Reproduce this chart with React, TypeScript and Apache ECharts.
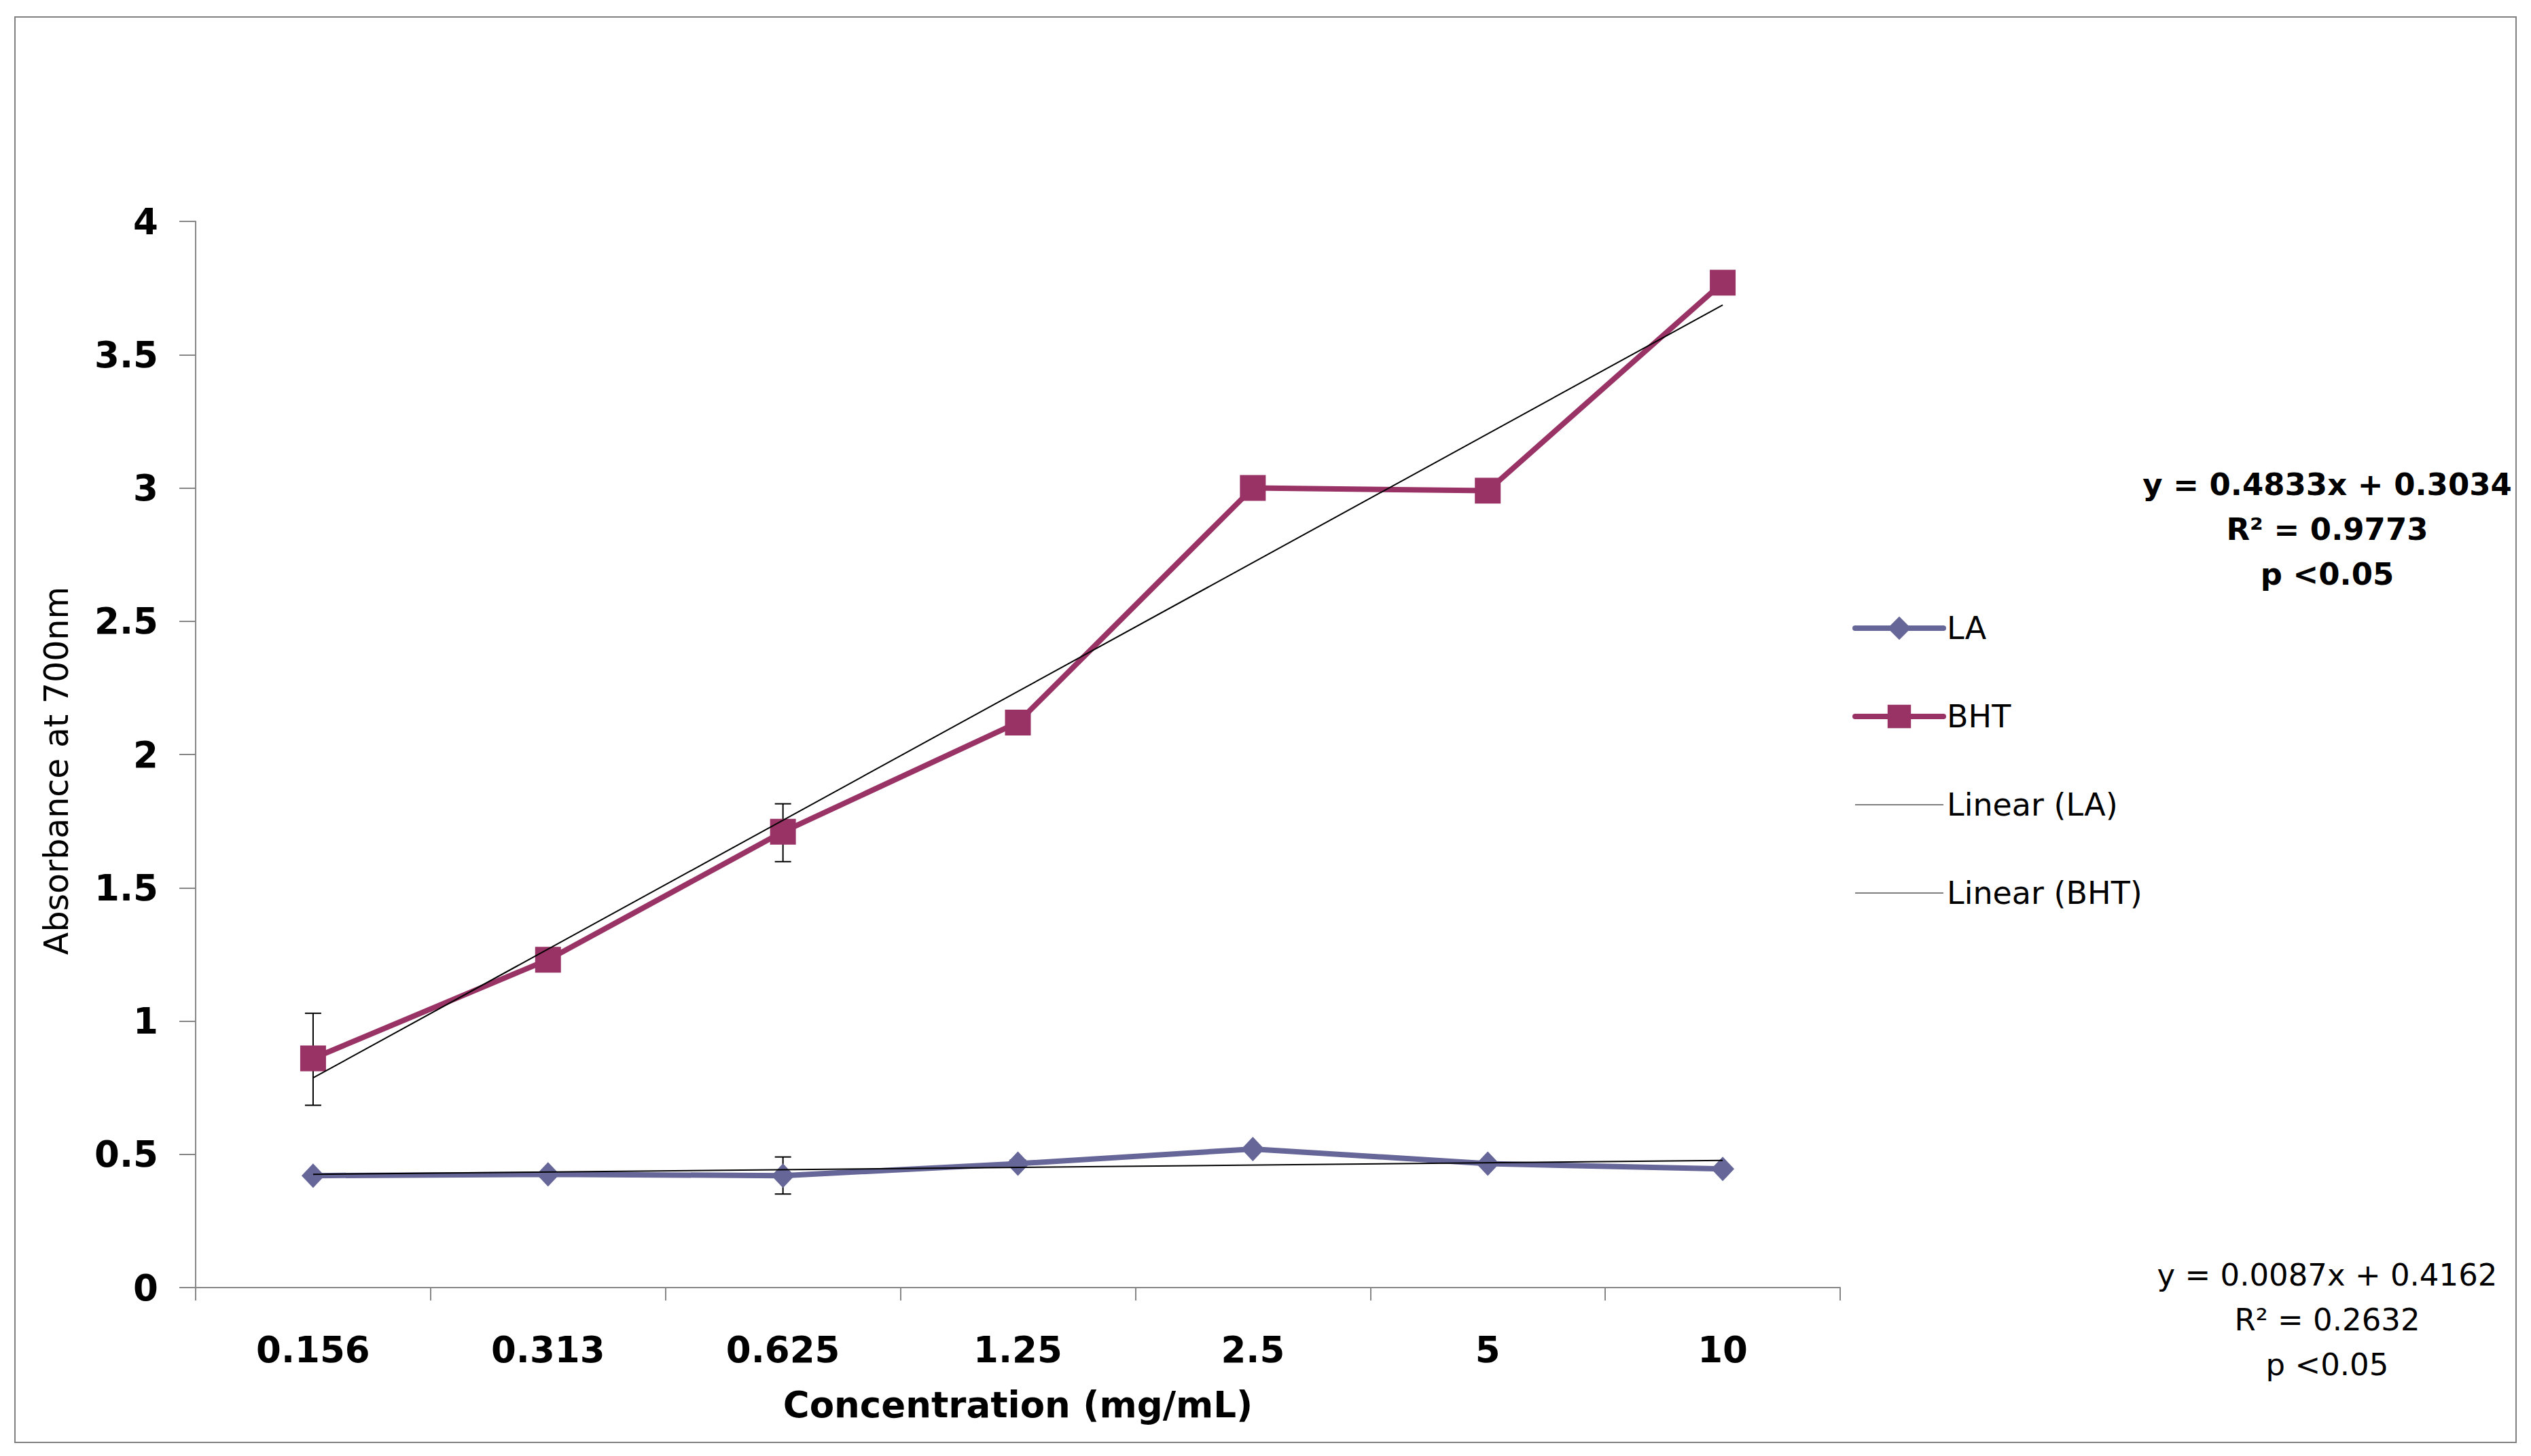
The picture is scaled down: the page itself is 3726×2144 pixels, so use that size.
import React, { useEffect, useRef } from "react";
import * as echarts from "echarts";

const categories = ["0.156", "0.313", "0.625", "1.25", "2.5", "5", "10"];
const laValues = [0.42, 0.425, 0.42, 0.465, 0.52, 0.465, 0.445];
const bhtValues = [0.86, 1.23, 1.71, 2.12, 3.0, 2.99, 3.77];
// error bars: [category index, low, high]
const laErrors = [
  [2, 0.351, 0.49],
  [3, 0.455, 0.478],
];
const bhtErrors = [
  [0, 0.684, 1.029],
  [2, 1.598, 1.815],
];
// trendline end points (first and last category), from the fitted equations
const laTrend = [
  [0, 0.4249],
  [6, 0.4771],
];
const bhtTrend = [
  [0, 0.7867],
  [6, 3.6865],
];
const bhtEquation = ["y = 0.4833x + 0.3034", "R² = 0.9773", "p <0.05"];
const laEquation = ["y = 0.0087x + 0.4162", "R² = 0.2632", "p <0.05"];

const FONT = "DejaVu Sans";
const AXIS_COLOR = "#868686";
const LA_COLOR = "#666699";
const BHT_COLOR = "#993366";

function errorRender(params: any, api: any) {
  const x = api.value(0);
  const lo = api.coord([x, api.value(1)]);
  const hi = api.coord([x, api.value(2)]);
  const w = 12;
  const st = { stroke: "#000", lineWidth: 2 };
  return {
    type: "group",
    children: [
      { type: "line", shape: { x1: lo[0], y1: lo[1], x2: hi[0], y2: hi[1] }, style: st },
      { type: "line", shape: { x1: lo[0] - w, y1: lo[1], x2: lo[0] + w, y2: lo[1] }, style: st },
      { type: "line", shape: { x1: hi[0] - w, y1: hi[1], x2: hi[0] + w, y2: hi[1] }, style: st },
    ],
  };
}

export default function App() {
  const ref = useRef<HTMLDivElement>(null);
  useEffect(() => {
    document.body.style.margin = "0";
    const chart = echarts.init(ref.current!, null, { renderer: "svg" });
    const lineIcon = "path://M0,0H130V1H0Z";
    const eqText = (lines: string[], y0: number, bold: boolean) =>
      lines.map((t, i) => ({
        type: "text",
        x: 3426,
        y: y0 + i * 66,
        style: {
          text: t,
          fill: "#000",
          font: `${bold ? "bold " : ""}45px "${FONT}"`,
          textAlign: "center",
          textVerticalAlign: "middle",
        },
      }));
    chart.setOption({
      animation: false,
      backgroundColor: "#fff",
      grid: { left: 288, top: 326, width: 2421, height: 1570, containLabel: false },
      xAxis: {
        type: "category",
        data: categories,
        boundaryGap: true,
        name: "Concentration (mg/mL)",
        nameLocation: "middle",
        nameGap: 146,
        nameTextStyle: { fontFamily: FONT, fontWeight: "bold", fontSize: 53, color: "#000" },
        axisLine: { show: true, lineStyle: { color: AXIS_COLOR, width: 2 } },
        axisTick: { show: true, length: 19, alignWithLabel: false, lineStyle: { color: AXIS_COLOR, width: 2 } },
        axisLabel: { fontFamily: FONT, fontWeight: "bold", fontSize: 53, color: "#000", margin: 65 },
        splitLine: { show: false },
      },
      yAxis: {
        type: "value",
        min: 0,
        max: 4,
        interval: 0.5,
        name: "Absorbance at 700nm",
        nameLocation: "middle",
        nameGap: 180,
        nameRotate: 90,
        nameTextStyle: { fontFamily: FONT, fontSize: 49, color: "#000", padding: [0, 48, 0, 0] },
        axisLine: { show: true, lineStyle: { color: AXIS_COLOR, width: 2 } },
        axisTick: { show: true, length: 24, lineStyle: { color: AXIS_COLOR, width: 2 } },
        axisLabel: { fontFamily: FONT, fontWeight: "bold", fontSize: 53, color: "#000", margin: 55 },
        splitLine: { show: false },
      },
      legend: {
        orient: "vertical",
        left: 2722,
        top: 897,
        itemWidth: 130,
        itemHeight: 43,
        itemGap: 84,
        textStyle: { fontFamily: FONT, fontSize: 46, color: "#000" },
        data: [
          { name: "LA", lineStyle: { width: 8, cap: "round" } },
          { name: "BHT", lineStyle: { width: 8, cap: "round" } },
          { name: "Linear (LA)", icon: lineIcon },
          { name: "Linear (BHT)", icon: lineIcon },
        ],
      },
      series: [
        {
          name: "LA-err",
          type: "custom",
          renderItem: errorRender,
          data: laErrors,
          z: 1,
          silent: true,
        },
        {
          name: "BHT-err",
          type: "custom",
          renderItem: errorRender,
          data: bhtErrors,
          z: 1,
          silent: true,
        },
        {
          name: "LA",
          type: "line",
          data: laValues,
          color: LA_COLOR,
          symbol: "diamond",
          symbolSize: [34, 36],
          lineStyle: { color: LA_COLOR, width: 8 },
          itemStyle: { color: LA_COLOR },
          z: 2,
        },
        {
          name: "BHT",
          type: "line",
          data: bhtValues,
          color: BHT_COLOR,
          symbol: "rect",
          symbolSize: 38,
          lineStyle: { color: BHT_COLOR, width: 8 },
          itemStyle: { color: BHT_COLOR },
          z: 2,
        },
        {
          name: "Linear (LA)",
          type: "line",
          data: laTrend,
          color: "#000",
          symbol: "none",
          lineStyle: { color: "#000", width: 2 },
          itemStyle: { color: "#000" },
          z: 3,
        },
        {
          name: "Linear (BHT)",
          type: "line",
          data: bhtTrend,
          color: "#000",
          symbol: "none",
          lineStyle: { color: "#000", width: 2 },
          itemStyle: { color: "#000" },
          z: 3,
        },
      ],
      graphic: [
        {
          type: "rect",
          shape: { x: 22, y: 25, width: 3682, height: 2099 },
          style: { fill: "none", stroke: "#808080", lineWidth: 2 },
          silent: true,
        },
        ...eqText(bhtEquation, 713, true),
        ...eqText(laEquation, 1877, false),
      ],
    });
    return () => chart.dispose();
  }, []);
  return <div ref={ref} style={{ width: 3726, height: 2144 }} />;
}
